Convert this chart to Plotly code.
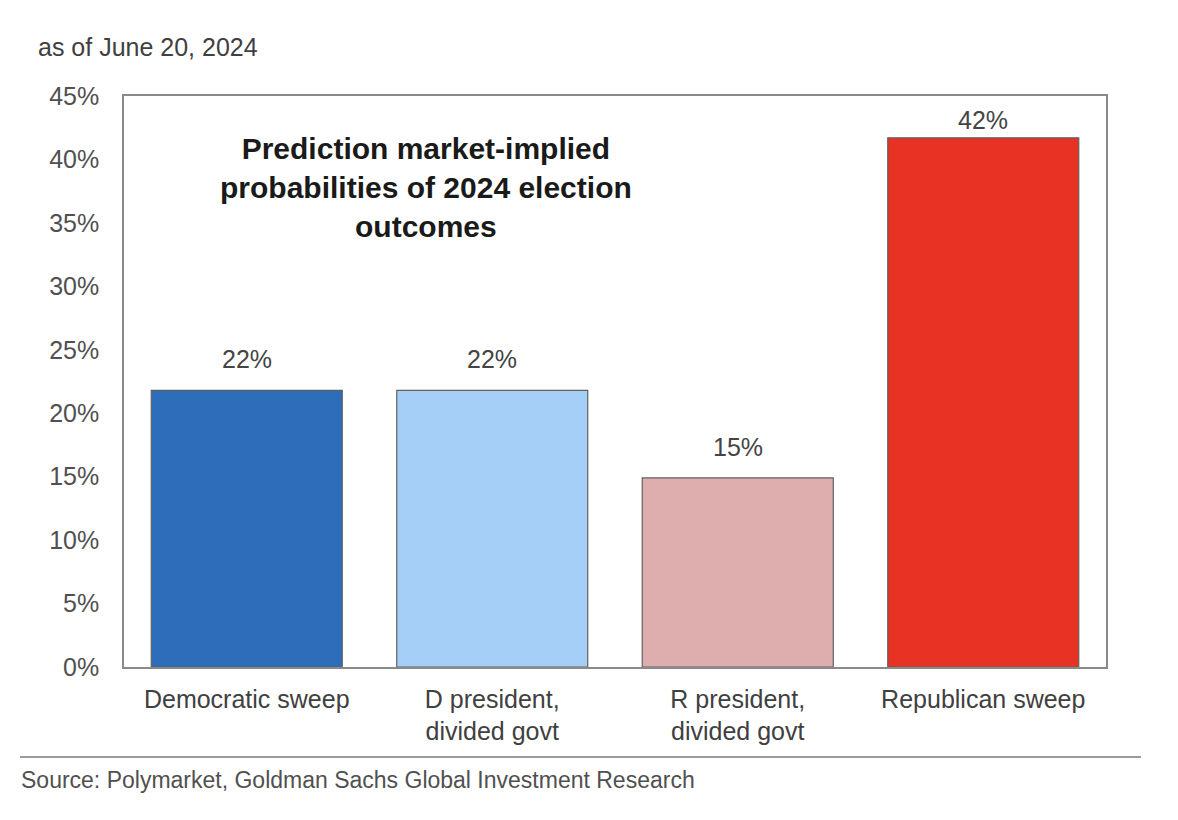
import plotly.graph_objects as go

categories = ["Democratic sweep", "D president,<br>divided govt", "R president,<br>divided govt", "Republican sweep"]
values = [21.8, 21.8, 14.9, 41.7]
bar_colors = ["#2E6DBA", "#A5CFF6", "#DEAEAE", "#E83224"]
label_shift = [15, 15, 15, 2]
tick_vals = [0, 5, 10, 15, 20, 25, 30, 35, 40, 45]
tick_text = [f"{v}%" for v in tick_vals]

# page offset of the figure inside the browser window (body margin)
OFF = 8
W, H = 1162, 804
L, R, T, B = 124 - OFF, 1178 - 1106 - OFF, 96 - OFF, 820 - 667 - OFF
pw = W - L - R
ph = H - T - B

def px_x(x):
    return (x - OFF - L) / pw

def px_y(y):
    return (H - B - (y - OFF)) / ph

FONT = "Liberation Sans, Arial, sans-serif"

fig = go.Figure()
fig.add_trace(go.Bar(
    x=categories, y=values,
    marker=dict(color=bar_colors, line=dict(color="#606060", width=1.2)),
    showlegend=False, hoverinfo="skip",
))

for c, v, s in zip(categories, values, label_shift):
    fig.add_annotation(x=c, y=v, xref="x", yref="y", text=f"{round(v)}%",
                       showarrow=False, yanchor="bottom", yshift=s,
                       font=dict(family=FONT, size=25, color="#444444"))

fig.add_annotation(xref="paper", yref="paper", x=px_x(426), y=px_y(187),
                   text="<b>Prediction market-implied<br>probabilities of 2024 election<br>outcomes</b>",
                   showarrow=False, xanchor="center", yanchor="middle", align="center",
                   font=dict(family=FONT, size=30, color="#1a1a1a"))

fig.add_annotation(xref="paper", yref="paper", x=px_x(36), y=px_y(47),
                   text="as of June 20, 2024", showarrow=False,
                   xanchor="left", yanchor="middle",
                   font=dict(family=FONT, size=25, color="#404040"))

fig.add_annotation(xref="paper", yref="paper", x=px_x(19), y=px_y(780),
                   text="Source: Polymarket, Goldman Sachs Global Investment Research",
                   showarrow=False, xanchor="left", yanchor="middle",
                   font=dict(family=FONT, size=23, color="#505050"))

fig.add_shape(type="line", xref="paper", yref="paper",
              x0=px_x(20), x1=px_x(1141), y0=px_y(757), y1=px_y(757),
              line=dict(color="#9a9a9a", width=2))

fig.update_layout(
    width=W, height=H,
    margin=dict(l=L, r=R, t=T, b=B, autoexpand=False),
    paper_bgcolor="white", plot_bgcolor="white",
    bargap=0.222,
    font=dict(family=FONT, color="#505050"),
    xaxis=dict(range=[-0.5, 3.5], showline=True, linecolor="#8a8a8a", linewidth=1.5, mirror=True,
               ticks="", tickfont=dict(size=25, color="#404040"),
               ticklabelstandoff=9, showgrid=False),
    yaxis=dict(range=[0, 45], tickvals=tick_vals, ticktext=tick_text,
               showline=True, linecolor="#8a8a8a", linewidth=1.5, mirror=True,
               showgrid=False, zeroline=False, ticks="",
               tickfont=dict(size=25, color="#505050"), ticklabelstandoff=18),
)

fig.write_html("out.html")
